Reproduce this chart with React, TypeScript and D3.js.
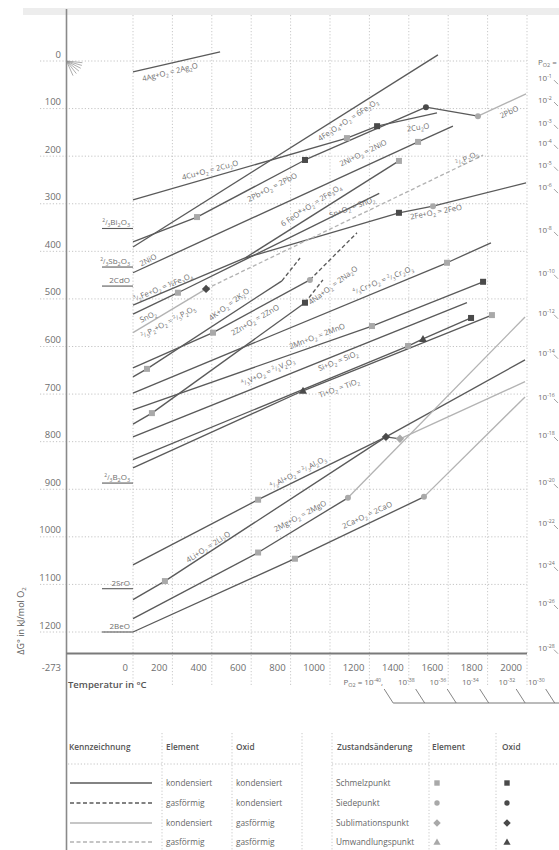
import React from 'react';
import * as d3 from 'd3';

const W = 559, H = 850;

// ---- data (temperature °C, ΔG° kJ/mol O2) ----
const tempTicks = [0, 200, 400, 600, 800, 1000, 1200, 1400, 1600, 1800, 2000];
const dgTicks = [0, -100, -200, -300, -400, -500, -600, -700, -800, -900, -1000, -1100, -1200];
const dgTickLabels = ['0', '100', '200', '300', '400', '500', '600', '700', '800', '900', '1000', '1100', '1200'];

const agLine = [[0, -23], [442, 19]];
const fe2o3Line = [[0, -391], [1548, 13]];
const cu2oLine = [[0, -292], [1086, -162], [1239, -137], [1543, -109]];
const pboLine = [[0, -380], [325, -328], [873, -208], [1487, -97], [1751, -116], [1995, -69]];
const nioLine = [[0, -445], [1447, -170], [1624, -137]];
const fe3o4Line = [[0, -513], [569, -414]];
const feoLine = [[569, -414], [1350, -319], [1523, -305], [1995, -256]];
const feo6Line = [[569, -414], [1350, -210]];
const sno2Line = [[0, -532], [228, -487], [1250, -278]];
const p2o5Line = [[0, -571], [371, -479], [1777, -198]];
const k2oLine = [[0, -664], [71, -647], [756, -462], [848, -414]];
const znoLine = [[0, -645], [406, -571], [898, -460], [1137, -361]];
const na2oLine = [[0, -763], [96, -740], [873, -508], [964, -460]];
const cr2o3Line = [[0, -698], [1594, -424], [1817, -382]];
const mnoLine = [[0, -733], [1213, -557], [1777, -464]];
const v2o3Line = [[0, -790], [1695, -508]];
const sio2Line = [[0, -838], [1396, -599], [1472, -584], [1716, -540]];
const tio2Line = [[0, -855], [863, -693], [1822, -534]];
const al2o3Line = [[0, -1059], [635, -922], [1284, -790], [1990, -628]];
const li2oLine = [[0, -1132], [162, -1093], [1284, -790], [1355, -794], [1990, -674]];
const mgoLine = [[0, -1172], [635, -1033], [1091, -918], [1990, -538]];
const caoLine = [[0, -1200], [822, -1046], [1477, -916], [1990, -706]];

// segment kinds: k = element & oxide condensed, kd = element gaseous, l = oxide gaseous, ld = both gaseous
const reactions = [
  { pts: agLine, seg: ['k'] },
  { pts: fe2o3Line, seg: ['k'] },
  { pts: cu2oLine, seg: ['k', 'k', 'k'] },
  { pts: pboLine, seg: ['k', 'k', 'k', 'k', 'l'] },
  { pts: nioLine, seg: ['k', 'k'] },
  { pts: fe3o4Line, seg: ['k'] },
  { pts: feoLine, seg: ['k', 'k', 'k'] },
  { pts: feo6Line, seg: ['k'] },
  { pts: sno2Line, seg: ['k', 'k'] },
  { pts: p2o5Line, seg: ['l', 'ld'] },
  { pts: k2oLine, seg: ['k', 'k', 'kd'] },
  { pts: znoLine, seg: ['k', 'k', 'kd'] },
  { pts: na2oLine, seg: ['k', 'k', 'kd'] },
  { pts: cr2o3Line, seg: ['k', 'k'] },
  { pts: mnoLine, seg: ['k', 'k'] },
  { pts: v2o3Line, seg: ['k'] },
  { pts: sio2Line, seg: ['k', 'k', 'k'] },
  { pts: tio2Line, seg: ['k', 'k'] },
  { pts: al2o3Line, seg: ['k', 'k', 'k'] },
  { pts: li2oLine, seg: ['k', 'k', 'k', 'l'] },
  { pts: mgoLine, seg: ['k', 'k', 'l'] },
  { pts: caoLine, seg: ['k', 'k', 'l'] },
];

// markers: [T, ΔG, shape, el|ox]
const markers: [number, number, string, string][] = [
  [1086, -162, 'sq', 'el'], [1239, -137, 'sq', 'ox'],
  [325, -328, 'sq', 'el'], [873, -208, 'sq', 'ox'], [1487, -97, 'ci', 'ox'], [1751, -116, 'ci', 'el'],
  [1447, -170, 'sq', 'el'],
  [1350, -319, 'sq', 'ox'], [1523, -305, 'ci', 'el'],
  [1350, -210, 'sq', 'el'],
  [228, -487, 'sq', 'el'],
  [371, -479, 'di', 'ox'],
  [71, -647, 'sq', 'el'],
  [406, -571, 'sq', 'el'], [898, -460, 'ci', 'el'],
  [96, -740, 'sq', 'el'], [873, -508, 'sq', 'ox'],
  [1594, -424, 'sq', 'el'],
  [1213, -557, 'sq', 'el'], [1777, -464, 'sq', 'ox'],
  [1396, -599, 'sq', 'el'], [1472, -584, 'tr', 'ox'], [1716, -540, 'sq', 'ox'],
  [863, -693, 'tr', 'ox'], [1822, -534, 'sq', 'el'],
  [635, -922, 'sq', 'el'], [1284, -790, 'di', 'ox'],
  [162, -1093, 'sq', 'el'], [1355, -794, 'di', 'el'],
  [635, -1033, 'sq', 'el'], [1091, -918, 'ci', 'el'],
  [822, -1046, 'sq', 'el'], [1477, -916, 'ci', 'el'],
];

// labels along the lines: [text, T, ΔG, angle]
const lineLabels: [string, number, number, number][] = [
  ['4Ag+O_2 = 2Ag_2O', 188, -23, -14],
  ['4Fe_3O_4+O_2 = 6Fe_2O_3', 1091, -124, -33],
  ['4Cu+O_2 = 2Cu_2O', 391, -229, -15],
  ['2Pb+O_2 = 2PbO', 706, -265, -27],
  ['2Cu_2O', 1447, -139, -8],
  ['2PbO', 1909, -107, -25],
  ['2Ni+O_2 = 2NiO', 1168, -193, -26],
  ['{2/5}P_2O_5', 1695, -204, -25],
  ['6 FeO*+O_2 = 2Fe_3O_4', 904, -303, -33],
  ['Sn+O_2 = SnO_2', 1112, -307, -20],
  ['2Fe+O_2 = 2FeO', 1538, -317, -11],
  ['2NiO', 76, -418, -27],
  ['{3/2}Fe+O_2 = ½Fe_3O_4', 152, -475, -22],
  ['SnO_2', 76, -537, -25],
  ['{2/5}P_2+O_2 = {2/5}P_2O_5', 178, -548, -28],
  ['4K+O_2 = 2K_2O', 487, -511, -37],
  ['2Zn+O_2 = 2ZnO', 619, -544, -30],
  ['4Na+O_2 = 2Na_2O', 1015, -471, -37],
  ['{4/3}Cr+O_2 = {2/3}Cr_2O_3', 1269, -460, -22],
  ['2Mn+O_2 = 2MnO', 934, -578, -21],
  ['{4/3}V+O_2 = {2/3}V_2O_3', 685, -653, -24],
  ['Si+O_2 = SiO_2', 1041, -630, -22],
  ['Ti+O_2 = TiO_2', 1046, -687, -20],
  ['{4/3}Al+O_2 = {2/3}Al_2O_3', 838, -864, -27],
  ['4Li+O_2 = 2Li_2O', 381, -1021, -33],
  ['2Mg+O_2 = 2MgO', 848, -956, -28],
  ['2Ca+O_2 = 2CaO', 1188, -954, -25],
];

// oxides named at the left edge: [text, ΔG at 0 °C]
const leftLabels: [string, number][] = [
  ['{2/3}Bi_2O_3', -352],
  ['{2/3}Sb_2O_3', -433],
  ['2CdO', -473],
  ['{2/3}B_2O_3', -887],
  ['2SrO', -1109],
  ['2BeO', -1200],
];

// oxygen partial pressure scale (right): exponent and ΔG level at the edge
const pO2Exp = [-1, -2, -3, -4, -5, -6, -8, -10, -12, -14, -16, -18, -20, -22, -24, -26, -28];
const pO2Level = [-36, -82, -130, -172, -218, -265, -355, -445, -529, -613, -706, -786, -885, -971, -1059, -1139, -1233];
// bottom scale: exponent and temperature position of tick end
const pO2BottomExp = [-40, -38, -36, -34, -32, -30];
const pO2BottomT = [1280, 1440, 1600, 1765, 1950, 2100];

const legendRows = [
  ['k', 'kondensiert', 'kondensiert', 'Schmelzpunkt', 'sq'],
  ['kd', 'gasförmig', 'kondensiert', 'Siedepunkt', 'ci'],
  ['l', 'kondensiert', 'gasförmig', 'Sublimationspunkt', 'di'],
  ['ld', 'gasförmig', 'gasförmig', 'Umwandlungspunkt', 'tr'],
];

// ---- layout ----
const x = d3.scaleLinear().domain([0, 2000]).range([133, 527]);
const y = d3.scaleLinear().domain([0, -1200]).range([61, 632]);
const AXIS_X = 66.5;
const AXIS_Y = 653.5;
const FONT = '"Open Sans", "Noto Sans", sans-serif';
const DARK = '#5a5a5a';
const LIGHT = '#b3b3b3';
const TXT = '#6e6e6e';

function rich(s: string, fs: number) {
  const out: any[] = [];
  let buf = '';
  let key = 0;
  const flush = () => {
    if (buf) { out.push(<tspan key={key++}>{buf}</tspan>); buf = ''; }
  };
  let i = 0;
  while (i < s.length) {
    const c = s[i];
    if (c === '_') {
      flush();
      out.push(<tspan key={key++} fontSize={fs * 0.68} baselineShift={-fs * 0.22}>{s[i + 1]}</tspan>);
      i += 2;
    } else if (c === '^') {
      flush();
      let j = i + 1; let t = '';
      while (j < s.length && s[j] !== ' ' && s[j] !== ',') { t += s[j]; j++; }
      out.push(<tspan key={key++} fontSize={fs * 0.65} baselineShift={fs * 0.42}>{t}</tspan>);
      i = j;
    } else if (c === '{') {
      flush();
      const j = s.indexOf('}', i);
      const [a, b] = s.slice(i + 1, j).split('/');
      out.push(<tspan key={key++} fontSize={fs * 0.62} baselineShift={fs * 0.35}>{a}</tspan>);
      out.push(<tspan key={key++} fontSize={fs * 0.8}>/</tspan>);
      out.push(<tspan key={key++} fontSize={fs * 0.62} baselineShift={-fs * 0.2}>{b}</tspan>);
      i = j + 1;
    } else {
      buf += c; i++;
    }
  }
  flush();
  return out;
}

function styleOf(k: string) {
  return {
    stroke: k === 'k' || k === 'kd' ? DARK : LIGHT,
    dash: k === 'kd' || k === 'ld' ? '4,2.5' : undefined,
  };
}

function Marker({ cx, cy, shape, kind, size = 1 }: any) {
  const fill = kind === 'ox' ? '#4a4a4a' : '#a9a9a9';
  if (shape === 'sq') return <rect x={cx - 3 * size} y={cy - 3 * size} width={6 * size} height={6 * size} fill={fill} />;
  if (shape === 'ci') return <circle cx={cx} cy={cy} r={3 * size} fill={fill} />;
  if (shape === 'di') {
    const r = 4.2 * size;
    return <path d={`M${cx},${cy - r}L${cx + r},${cy}L${cx},${cy + r}L${cx - r},${cy}Z`} fill={fill} />;
  }
  const r = 4 * size;
  return <path d={`M${cx},${cy - r}L${cx + r},${cy + r * 0.75}L${cx - r},${cy + r * 0.75}Z`} fill={fill} />;
}

export default function App() {
  const line = d3.line<number[]>().x((d) => x(d[0])).y((d) => y(d[1]));

  const legendRowY = [783, 803, 823, 842];

  return (
    <svg width={W} height={H} style={{ display: 'block', position: 'absolute', left: 0, top: 0, background: '#fff' }}
      fontFamily={FONT}>
      <rect x={0} y={0} width={W} height={H} fill="#fff" />
      <rect x={23} y={8} width={W - 23} height={7} fill="#ededed" />

      {/* grid */}
      {dgTicks.map((v) => (
        <line key={'h' + v} x1={40} x2={527} y1={y(v)} y2={y(v)} stroke="#c4c4c4" strokeWidth={1} strokeDasharray="1.2,2" />
      ))}
      {tempTicks.map((t) => (
        <line key={'v' + t} x1={x(t)} x2={x(t)} y1={15} y2={685} stroke="#c8c8c8" strokeWidth={1} strokeDasharray="1.2,2" />
      ))}

      {/* axes */}
      <line x1={AXIS_X} x2={AXIS_X} y1={9} y2={H} stroke="#8a8a8a" strokeWidth={1.6} />
      <line x1={AXIS_X} x2={527} y1={AXIS_Y} y2={AXIS_Y} stroke="#7a7a7a" strokeWidth={1.8} />

      {/* origin fan */}
      {[6, 16, 27, 39, 52, 66].map((a) => {
        const r = (a * Math.PI) / 180;
        return <line key={'f' + a} x1={AXIS_X} y1={y(0)} x2={AXIS_X + 16 * Math.cos(r)} y2={y(0) + 16 * Math.sin(r)} stroke="#8a8a8a" strokeWidth={0.7} />;
      })}

      {/* y tick labels */}
      {dgTicks.map((v, i) => (
        <text key={'yl' + v} x={61} y={y(v) - 3.5} textAnchor="end" fontSize={9.5} fill={TXT}>{dgTickLabels[i]}</text>
      ))}
      {/* x tick labels */}
      <text x={61} y={671} textAnchor="end" fontSize={9.5} fill={TXT}>-273</text>
      {tempTicks.map((t) => (
        <text key={'xl' + t} x={x(t) - 5} y={671} textAnchor="end" fontSize={9.5} fill={TXT}>{t}</text>
      ))}
      <text x={68} y={688} fontSize={9.5} fill="#555" fontWeight={600}>Temperatur in °C</text>
      <text transform={`translate(24,621) rotate(-90)`} textAnchor="middle" fontSize={9} fill="#555">
        {rich('ΔG° in kJ/mol O_2', 9)}
      </text>

      {/* left labels */}
      {leftLabels.map(([t, v]) => (
        <g key={'ll' + t}>
          <line x1={x(0) - 31} x2={x(0)} y1={y(v)} y2={y(v)} stroke={DARK} strokeWidth={1.1} />
          <text x={x(0) - 3} y={y(v) - 3} textAnchor="end" fontSize={8} fill={TXT}>{rich(t, 8)}</text>
        </g>
      ))}

      {/* reaction lines */}
      {reactions.map((r, ri) =>
        r.seg.map((k, si) => {
          const s = styleOf(k);
          return (
            <path key={`r${ri}-${si}`} d={line([r.pts[si], r.pts[si + 1]]) as string} fill="none"
              stroke={s.stroke} strokeWidth={1.35} strokeDasharray={s.dash} />
          );
        })
      )}

      {/* markers */}
      {markers.map(([t, v, sh, kd], i) => (
        <Marker key={'m' + i} cx={x(t)} cy={y(v)} shape={sh} kind={kd} />
      ))}

      {/* line labels */}
      {lineLabels.map(([t, tx, v, a], i) => (
        <text key={'lb' + i} transform={`translate(${x(tx)},${y(v)}) rotate(${a})`} textAnchor="middle"
          dy={2.8} fontSize={7.6} fill={TXT}>{rich(t, 7.6)}</text>
      ))}

      {/* right pO2 scale */}
      <text x={538} y={y(0) + 4} fontSize={8} fill={TXT}>{rich('P_O_2 =', 8)}</text>
      {pO2Exp.map((e, i) => (
        <g key={'pr' + e}>
          <text x={538} y={y(pO2Level[i]) + 3} fontSize={8} fill={TXT}>{rich('10^' + e, 8)}</text>
          <line x1={554} y1={y(pO2Level[i]) + 2} x2={558} y2={y(pO2Level[i]) + 6} stroke="#888" strokeWidth={0.8} />
        </g>
      ))}

      {/* bottom pO2 scale */}
      {pO2BottomExp.map((e, i) => {
        const xe = x(pO2BottomT[i]);
        return (
          <g key={'pb' + e}>
            <text x={xe - 2} y={685} textAnchor="end" fontSize={8} fill={TXT}>
              {rich((i === 0 ? 'P_O_2 = ' : '') + '10^' + e + (i === 0 ? ',' : ''), 8)}
            </text>
            <line x1={xe - 1} y1={689} x2={xe + 8} y2={703} stroke="#777" strokeWidth={0.9} />
          </g>
        );
      })}
      <line x1={x(pO2BottomT[0]) + 8} x2={W} y1={703} y2={703} stroke="#777" strokeWidth={1} />

      {/* legend */}
      <g fontSize={8.3} fill="#666">
        <text x={69} y={750} fill="#555" fontWeight={600}>Kennzeichnung</text>
        <text x={166} y={750} fill="#555" fontWeight={600}>Element</text>
        <text x={236} y={750} fill="#555" fontWeight={600}>Oxid</text>
        <text x={337} y={750} fill="#555" fontWeight={600}>Zustandsänderung</text>
        <text x={432} y={750} fill="#555" fontWeight={600}>Element</text>
        <text x={502} y={750} fill="#555" fontWeight={600}>Oxid</text>
        <line x1={68} x2={302} y1={764} y2={764} stroke="#c4c4c4" strokeDasharray="1.2,2" />
        <line x1={332} x2={W} y1={764} y2={764} stroke="#c4c4c4" strokeDasharray="1.2,2" />
        {[162, 232, 302, 332, 429, 496].map((vx) => (
          <line key={'ls' + vx} x1={vx} x2={vx} y1={733} y2={H} stroke="#c8c8c8" strokeDasharray="1.2,2" />
        ))}
        {legendRows.map((r, i) => {
          const s = styleOf(r[0]);
          const ry = legendRowY[i];
          return (
            <g key={'lr' + i}>
              <line x1={70} x2={152} y1={ry} y2={ry} stroke={s.stroke} strokeWidth={1.35} strokeDasharray={s.dash} />
              <text x={166} y={ry + 3}>{r[1]}</text>
              <text x={236} y={ry + 3}>{r[2]}</text>
              <text x={336} y={ry + 3}>{r[3]}</text>
              <Marker cx={437} cy={ry} shape={r[4]} kind="el" size={0.9} />
              <Marker cx={507} cy={ry} shape={r[4]} kind="ox" size={0.9} />
            </g>
          );
        })}
      </g>
    </svg>
  );
}
